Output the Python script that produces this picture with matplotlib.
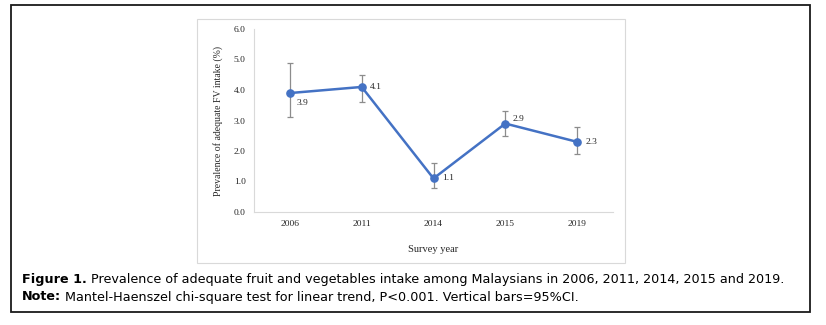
import matplotlib
matplotlib.use("Agg")
import matplotlib.pyplot as plt
from matplotlib.patches import Rectangle

years = ["2006", "2011", "2014", "2015", "2019"]
prevalence = [3.9, 4.1, 1.1, 2.9, 2.3]
ci_low = [3.1, 3.6, 0.8, 2.5, 1.9]
ci_high = [4.9, 4.5, 1.6, 3.3, 2.8]
yticks = [0.0, 1.0, 2.0, 3.0, 4.0, 5.0, 6.0]

W, H = 826, 325
fig = plt.figure(figsize=(W / 100, H / 100), dpi=100)

def px_box(x0, y0, x1, y1):
    # pixel coords (top-left origin) -> figure fraction [left, bottom, w, h]
    return [x0 / W, 1 - y1 / H, (x1 - x0) / W, (y1 - y0) / H]

# outer frame and inner chart frame
l, b, w, h = px_box(11, 5, 810, 312)
fig.patches.append(Rectangle((l, b), w, h, transform=fig.transFigure,
                             fill=False, ec="#1a1a1a", lw=1.3))
l, b, w, h = px_box(197, 19, 625, 263)
fig.patches.append(Rectangle((l, b), w, h, transform=fig.transFigure,
                             fill=False, ec="#d9d9d9", lw=0.8))

serif = "Liberation Serif"
ax = fig.add_axes(px_box(254, 29, 613, 212))
x = list(range(len(years)))
lo = [p - c for p, c in zip(prevalence, ci_low)]
hi = [c - p for p, c in zip(prevalence, ci_high)]
ax.errorbar(x, prevalence, yerr=[lo, hi], fmt="none", ecolor="#8c8c8c",
            elinewidth=0.9, capsize=2.5, capthick=0.9, zorder=2)
ax.plot(x, prevalence, color="#4472C4", lw=1.8, marker="o", ms=5.2, zorder=3)

offsets = [(5, -7), (6, 0), (6, 0), (5, 3), (6, 0)]
for xi, v, off in zip(x, prevalence, offsets):
    ax.annotate(f"{v:.1f}", (xi, v), xytext=off, textcoords="offset points",
                ha="left", va="center", fontsize=6.8, family=serif, color="#262626")

ax.set_xlim(-0.5, len(years) - 0.5)
ax.set_ylim(0, 6)
ax.set_yticks(yticks)
ax.set_yticklabels([f"{t:.1f}" for t in yticks])
ax.set_xticks(x)
ax.set_xticklabels(years)
for s in ["top", "right"]:
    ax.spines[s].set_visible(False)
for s in ["left", "bottom"]:
    ax.spines[s].set_color("#d9d9d9")
    ax.spines[s].set_linewidth(0.8)
ax.tick_params(length=0, labelsize=6.8, colors="#262626", pad=6)
for lab in ax.get_xticklabels() + ax.get_yticklabels():
    lab.set_family(serif)
ax.set_ylabel("Prevalence of adequate FV intake (%)", family=serif,
              fontsize=7, color="#262626", labelpad=8)
ax.set_xlabel("Survey year", family=serif, fontsize=7.5, color="#262626",
              labelpad=12)

# caption
cap_font = "DejaVu Sans"
r = fig.canvas.get_renderer()
lines = [("Figure 1.", " Prevalence of adequate fruit and vegetables intake among Malaysians in 2006, 2011, 2014, 2015 and 2019.", 280),
         ("Note:", " Mantel-Haenszel chi-square test for linear trend, P<0.001. Vertical bars=95%CI.", 297)]
for bold, rest, ypx in lines:
    t = fig.text(22 / W, 1 - ypx / H, bold, fontsize=9.2, weight="bold",
                 family=cap_font, va="center", color="#000000")
    bb = t.get_window_extent(r)
    fig.text(bb.x1 / W, 1 - ypx / H, rest, fontsize=9.2, family=cap_font,
             va="center", color="#000000")

fig.savefig("out.png", dpi=100)
